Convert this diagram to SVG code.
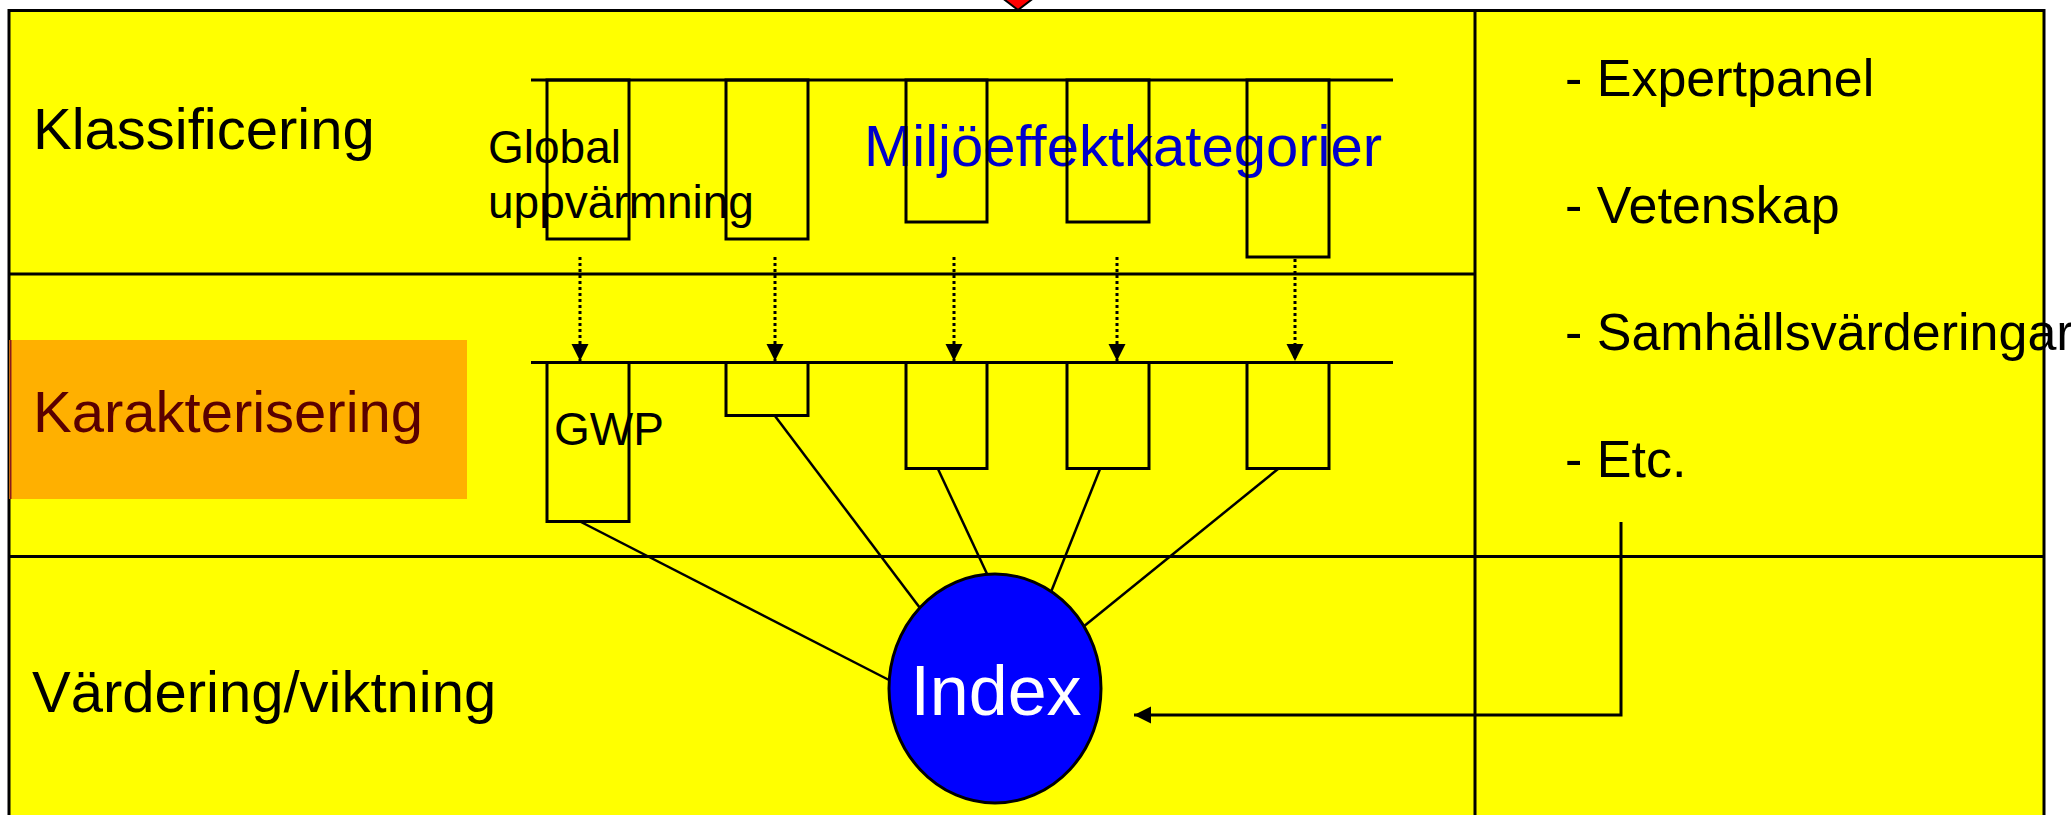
<svg xmlns="http://www.w3.org/2000/svg" width="2071" height="815" viewBox="0 0 2071 815">
<defs>
<style>
.t{font-family:"Liberation Sans",Arial,sans-serif;}
.big{font-size:58px;}
.mid{font-size:46px;}
.side{font-size:52px;}
.box{fill:none;stroke:#000;stroke-width:3;}
.div{stroke:#000;stroke-width:3;fill:none;}
.ln{stroke:#000;stroke-width:2.5;fill:none;}
.dot{stroke:#000;stroke-width:3;stroke-dasharray:3,3;fill:none;}
</style>
<marker id="ah" markerUnits="userSpaceOnUse" markerWidth="18" markerHeight="18" refX="17" refY="8.5" orient="auto" viewBox="0 0 18 18">
<path d="M0,0 L17,8.5 L0,17 z" fill="#000"/>
</marker>
</defs>
<rect x="0" y="0" width="2071" height="815" fill="#fff"/>
<g id="frame">
<rect x="9" y="10.5" width="2035" height="830" fill="#ffff00" stroke="#000" stroke-width="3"/>
<polygon points="1001,-3 1035,-3 1018,10" fill="#ff0000" stroke="#000" stroke-width="2"/>
<line class="div" x1="9" y1="274" x2="1475" y2="274"/>
<line class="div" x1="9" y1="556.5" x2="2044" y2="556.5"/>
<line class="div" x1="1475" y1="10" x2="1475" y2="815"/>
</g>
<g id="karakterisering-band">
<rect x="9" y="340" width="458" height="159" fill="#ffb000"/>
<line x1="10.5" y1="340" x2="10.5" y2="499" stroke="#8b1a1a" stroke-width="2"/>
</g>
<g id="row-labels">
<text class="t big" x="33" y="149" fill="#000">Klassificering</text>
<text class="t big" x="33" y="432" fill="#5a0000">Karakterisering</text>
<text class="t big" x="32" y="712" fill="#000">Värdering/viktning</text>
</g>
<g id="side-list">
<text class="t side" x="1565" y="96" fill="#000">- Expertpanel</text>
<text class="t side" x="1565" y="223" fill="#000">- Vetenskap</text>
<text class="t side" x="1565" y="350" fill="#000">- Samhällsvärderingar</text>
<text class="t side" x="1565" y="477" fill="#000">- Etc.</text>
</g>
<g id="category-labels">
<text class="t mid" x="488" y="163" fill="#000">Global</text>
<text class="t mid" x="488" y="218" fill="#000">uppvärmning</text>
<text class="t big" x="864" y="166" fill="#0000cc">Miljöeffektkategorier</text>
<text class="t mid" x="554" y="445" fill="#000">GWP</text>
</g>
<g id="classification-row">
<line class="div" x1="531" y1="80" x2="1393" y2="80"/>
<rect id="c1" class="box" x="547" y="80" width="82" height="159"/>
<rect id="c2" class="box" x="726" y="80" width="82" height="159"/>
<rect id="c3" class="box" x="906" y="80" width="81" height="142"/>
<rect id="c4" class="box" x="1067" y="80" width="82" height="142"/>
<rect id="c5" class="box" x="1247" y="80" width="82" height="177"/>
</g>
<g id="characterisation-row">
<line class="div" x1="531" y1="362.5" x2="1393" y2="362.5"/>
<rect id="k1" class="box" x="547" y="362.5" width="82" height="159"/>
<rect id="k2" class="box" x="726" y="362.5" width="82" height="53"/>
<rect id="k3" class="box" x="906" y="362.5" width="81" height="106"/>
<rect id="k4" class="box" x="1067" y="362.5" width="82" height="106"/>
<rect id="k5" class="box" x="1247" y="362.5" width="82" height="106"/>
</g>
<g id="connectors">
<line class="dot" x1="580" y1="257" x2="580" y2="361" marker-end="url(#ah)"/>
<line class="dot" x1="775" y1="257" x2="775" y2="361" marker-end="url(#ah)"/>
<line class="dot" x1="954" y1="257" x2="954" y2="361" marker-end="url(#ah)"/>
<line class="dot" x1="1117" y1="257" x2="1117" y2="361" marker-end="url(#ah)"/>
<line class="dot" x1="1295" y1="259" x2="1295" y2="361" marker-end="url(#ah)"/>
<line class="ln" x1="581" y1="522" x2="889" y2="680"/>
<line class="ln" x1="775" y1="416" x2="920" y2="608"/>
<line class="ln" x1="938" y1="469" x2="988" y2="576"/>
<line class="ln" x1="1100" y1="469" x2="1051" y2="592"/>
<line class="ln" x1="1278" y1="469" x2="1083" y2="627"/>
<polyline class="ln" points="1621,522 1621,715 1150,715" style="stroke-width:3"/>
<line x1="1150" y1="715" x2="1134" y2="715" stroke="#000" stroke-width="3" marker-end="url(#ah)"/>
</g>
<g id="index">
<ellipse cx="995" cy="688.5" rx="106" ry="114.5" fill="#0000ff" stroke="#000" stroke-width="3"/>
<text class="t" x="996" y="715" font-size="70" fill="#fff" text-anchor="middle">Index</text>
</g>
</svg>
